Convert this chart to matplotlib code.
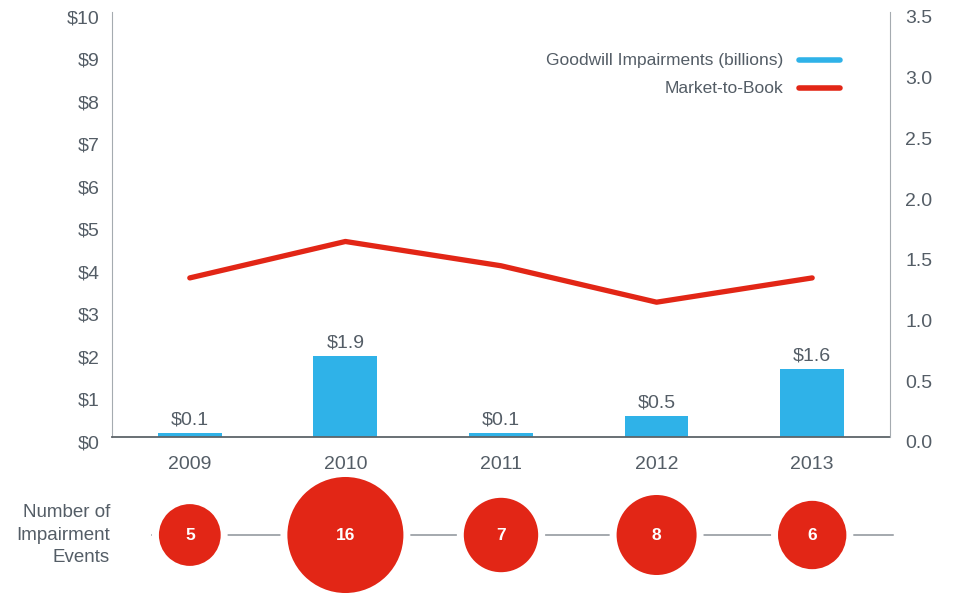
import matplotlib
matplotlib.use("Agg")
import matplotlib.pyplot as plt
import matplotlib.transforms as mtrans

years = ["2009", "2010", "2011", "2012", "2013"]
impairments = [0.1, 1.9, 0.1, 0.5, 1.6]
impairment_labels = ["$0.1", "$1.9", "$0.1", "$0.5", "$1.6"]
market_to_book = [1.31, 1.61, 1.41, 1.11, 1.31]
events = [5, 16, 7, 8, 6]
left_ticks = [0, 1, 2, 3, 4, 5, 6, 7, 8, 9, 10]
left_ticklabels = ["$0", "$1", "$2", "$3", "$4", "$5", "$6", "$7", "$8", "$9", "$10"]
right_ticks = [0.0, 0.5, 1.0, 1.5, 2.0, 2.5, 3.0, 3.5]

BLUE = "#2fb2e8"
RED = "#e22616"
TXT = "#545d66"
GRAY = "#8c9298"

plt.rcParams["font.family"] = ["Liberation Sans", "DejaVu Sans"]

fig = plt.figure(figsize=(9.54, 5.93), dpi=100)
ax = fig.add_axes([0.1174, 0.2631, 0.8155, 0.7167])
x = list(range(len(years)))

ax.bar(x, impairments, width=0.41, color=BLUE, zorder=2)
for xi, v, lab in zip(x, impairments, impairment_labels):
    ax.text(xi, v + 0.1, lab, ha="center", va="bottom", fontsize=14, color=TXT)

ax.set_xlim(-0.5, 4.5)
ax.set_ylim(0, 10)
ax.set_yticks(left_ticks)
ax.set_yticklabels(left_ticklabels)
ax.set_xticks(x)
ax.set_xticklabels(years)
ax.tick_params(axis="both", length=0, labelsize=14, labelcolor=TXT)
ax.tick_params(axis="y", pad=9)
ax.tick_params(axis="x", pad=13.5)
ax.spines["top"].set_visible(False)
ax.spines["left"].set_color("#a5abb0")
ax.spines["right"].set_visible(False)
ax.spines["bottom"].set_color("#5d6469")
ax.spines["bottom"].set_linewidth(1.3)

ax2 = ax.twinx()
ax2.plot(x, market_to_book, color=RED, lw=3.8, solid_capstyle="round", zorder=3)
ax2.set_ylim(0, 3.5)
ax2.set_yticks(right_ticks)
ax2.set_yticklabels([f"{t:.1f}" for t in right_ticks])
ax2.tick_params(axis="y", length=0, labelsize=14, labelcolor=TXT, pad=11)
for s in ["top", "left", "bottom"]:
    ax2.spines[s].set_visible(False)
ax2.spines["right"].set_color("#a5abb0")

shift = mtrans.ScaledTranslation(0, -5 / 100, fig.dpi_scale_trans)
for lab in ax.get_yticklabels() + ax2.get_yticklabels():
    lab.set_transform(lab.get_transform() + shift)

# legend
fig.text(783 / 954, 1 - 60 / 593, "Goodwill Impairments (billions)", ha="right", va="center",
         fontsize=12.5, color=TXT)
fig.text(783 / 954, 1 - 88 / 593, "Market-to-Book", ha="right", va="center",
         fontsize=12.5, color=TXT)
fig.add_artist(plt.Line2D([799 / 954, 840 / 954], [1 - 60 / 593] * 2, color=BLUE, lw=4,
                          solid_capstyle="round", transform=fig.transFigure))
fig.add_artist(plt.Line2D([799 / 954, 840 / 954], [1 - 88 / 593] * 2, color=RED, lw=4,
                          solid_capstyle="round", transform=fig.transFigure))

# bubbles
ax3 = fig.add_axes([0.1174, 0.0078, 0.8155, 0.18])
ax3.set_xlim(-0.5, 4.5)
ax3.set_ylim(-1, 1)
ax3.axis("off")
ax3.plot([-0.245, 4.52], [0, 0], color=GRAY, lw=1.1, zorder=1, clip_on=False)
ax3.scatter(x, [0] * len(x), s=[e * 490 for e in events], color=RED,
            edgecolors="white", linewidths=5, zorder=2, clip_on=False)
for xi, e in zip(x, events):
    ax3.text(xi, 0, str(e), ha="center", va="center", color="white",
             fontsize=12.5, fontweight="bold", zorder=3)

fig.text(110 / 954, 1 - 535 / 593, "Number of\nImpairment\nEvents", ha="right", va="center",
         fontsize=13.5, color=TXT, linespacing=1.4)

fig.savefig("out.png", dpi=100)
